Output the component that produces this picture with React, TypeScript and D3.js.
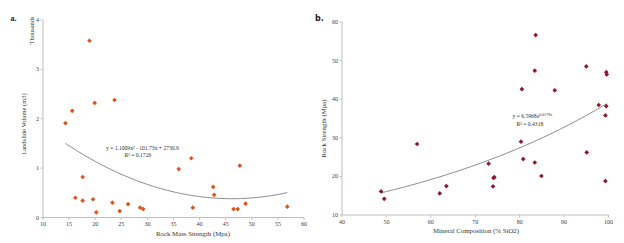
import React from "react";
import * as d3 from "d3";

// Panel a: Rock Mass Strength (Mpa) vs Landslide Volume (thousands m3)
const rockMassStrength = [14.3, 15.6, 18.9, 19.9, 23.7, 17.6, 16.2, 17.6, 19.6, 20.2, 23.3, 24.7, 26.3, 28.6, 29.2, 38.4, 36.0, 47.7, 42.6, 42.8, 38.7, 46.5, 47.3, 48.8, 56.8];
const landslideVolumeK = [1.91, 2.16, 3.58, 2.32, 2.38, 0.82, 0.40, 0.34, 0.37, 0.105, 0.30, 0.13, 0.27, 0.20, 0.17, 1.20, 0.98, 1.05, 0.62, 0.46, 0.20, 0.17, 0.17, 0.28, 0.22];
const aXTicks = [10, 15, 20, 25, 30, 35, 40, 45, 50, 55, 60];
const aYTicks = [0, 1, 2, 3, 4];
const aCoef = [1.1009, -101.73, 2730.9];

// Panel b: Mineral Composition (% SiO2) vs Rock Strength (Mpa)
const silica = [48.8, 49.5, 56.9, 62.0, 63.5, 83.6, 83.4, 95.0, 99.5, 99.6, 80.5, 87.9, 97.8, 99.5, 99.3, 80.3, 95.1, 73.0, 80.8, 83.4, 74.3, 74.1, 74.0, 84.9, 99.3];
const rockStrength = [16.1, 14.2, 28.4, 15.6, 17.5, 56.6, 47.4, 48.5, 47.0, 46.4, 42.6, 42.3, 38.5, 38.2, 35.8, 29.0, 26.2, 23.3, 24.5, 23.6, 19.8, 19.6, 17.4, 20.1, 18.8];
const bXTicks = [40, 50, 60, 70, 80, 90, 100];
const bYTicks = [10, 20, 30, 40, 50, 60];
const bCoef = [6.5968, 0.0178];

const FONT = "'Liberation Serif', 'Times New Roman', serif";
const AXIS = "#bfbfbf";

function Panel(props: {
  xs: number[]; ys: number[]; xDomain: [number, number]; yDomain: [number, number];
  xRange: [number, number]; yRange: [number, number]; xTicks: number[]; yTicks: number[];
  color: string; curve: (x: number) => number;
}) {
  const { xs, ys, xDomain, yDomain, xRange, yRange, xTicks, yTicks, color, curve } = props;
  const x = d3.scaleLinear().domain(xDomain).range(xRange);
  const y = d3.scaleLinear().domain(yDomain).range(yRange);
  const xmin = d3.min(xs) as number;
  const xmax = d3.max(xs) as number;
  const samples = d3.range(0, 101).map((i) => xmin + ((xmax - xmin) * i) / 100);
  const line = d3.line<number>().x((v) => x(v)).y((v) => y(curve(v)));
  const sym = d3.symbol().type(d3.symbolSquare).size(11)();
  return (
    <g>
      <line x1={x(xDomain[0])} x2={x(xDomain[0])} y1={y(yDomain[0])} y2={y(yDomain[1])} stroke={AXIS} strokeWidth={1} />
      <line x1={x(xDomain[0])} x2={x(xDomain[1])} y1={y(yDomain[0])} y2={y(yDomain[0])} stroke={AXIS} strokeWidth={1} />
      {yTicks.map((t) => (
        <g key={"y" + t}>
          <line x1={x(xDomain[0]) - 2.5} x2={x(xDomain[0])} y1={y(t)} y2={y(t)} stroke={AXIS} />
          <text x={x(xDomain[0]) - 4} y={y(t) + 2} fontSize={6} textAnchor="end" fontFamily={FONT} fill="#404040">{t}</text>
        </g>
      ))}
      {xTicks.map((t) => (
        <g key={"x" + t}>
          <line x1={x(t)} x2={x(t)} y1={y(yDomain[0])} y2={y(yDomain[0]) + 2.5} stroke={AXIS} />
          <text x={x(t)} y={y(yDomain[0]) + 8.5} fontSize={6} textAnchor="middle" fontFamily={FONT} fill="#404040">{t}</text>
        </g>
      ))}
      <path d={line(samples) || ""} fill="none" stroke="#8a8a8a" strokeWidth={1} />
      {xs.map((v, i) => (
        <path key={i} d={sym || ""} transform={`translate(${x(v)},${y(ys[i])}) rotate(45)`} fill={color} />
      ))}
    </g>
  );
}

export default function App() {
  return (
    <svg width={624} height={243} style={{ position: "absolute", left: 0, top: 0, background: "#fff" }}>
      <rect width={624} height={243} fill="#fff" />
      <Panel
        xs={rockMassStrength} ys={landslideVolumeK}
        xDomain={[10, 60]} yDomain={[0, 4]} xRange={[43, 304]} yRange={[217.5, 20]}
        xTicks={aXTicks} yTicks={aYTicks} color="#d9551f"
        curve={(v) => (aCoef[0] * v * v + aCoef[1] * v + aCoef[2]) / 1000}
      />
      <Panel
        xs={silica} ys={rockStrength}
        xDomain={[40, 100]} yDomain={[10, 60]} xRange={[342, 608.5]} yRange={[215, 22]}
        xTicks={bXTicks} yTicks={bYTicks} color="#8b1a2e"
        curve={(v) => bCoef[0] * Math.exp(bCoef[1] * v)}
      />
      {/* panel a texts */}
      <text x={10.5} y={21} fontSize={8} fontWeight="bold" fontFamily={FONT} fill="#222">a.</text>
      <text transform="translate(34,30.5) rotate(-90)" fontSize={6.5} textAnchor="middle" fontFamily={FONT} fill="#333">Thousands</text>
      <text transform="translate(26,124) rotate(-90)" fontSize={6.5} textAnchor="middle" fontFamily={FONT} fill="#333">Landslide Volume (m3)</text>
      <text x={193} y={236} fontSize={6.8} textAnchor="middle" fontFamily={FONT} fill="#333">Rock Mass Strength (Mpa)</text>
      <text x={106} y={149.5} fontSize={5.6} fontFamily={FONT} fill="#333">y = 1.1009x² - 101.73x + 2730.9</text>
      <text x={124.5} y={156.5} fontSize={5.6} fontFamily={FONT} fill="#333">R² = 0.1726</text>
      {/* panel b texts */}
      <text x={315} y={21} fontSize={8} fontWeight="bold" fontFamily="'DejaVu Sans', sans-serif" fill="#222">b.</text>
      <text transform="translate(326,128.5) rotate(-90)" fontSize={6.8} textAnchor="middle" fontFamily={FONT} fill="#333">Rock Strength (Mpa)</text>
      <text x={476} y={233} fontSize={6.8} textAnchor="middle" fontFamily={FONT} fill="#333">Mineral Composition (% SiO2)</text>
      <text x={512.5} y={117.5} fontSize={5.6} fontFamily={FONT} fill="#333">
        y = 6.5968e<tspan dy={-2} fontSize={4}>0.0178x</tspan>
      </text>
      <text x={516.5} y={125.5} fontSize={5.6} fontFamily={FONT} fill="#333">R² = 0.4318</text>
    </svg>
  );
}
